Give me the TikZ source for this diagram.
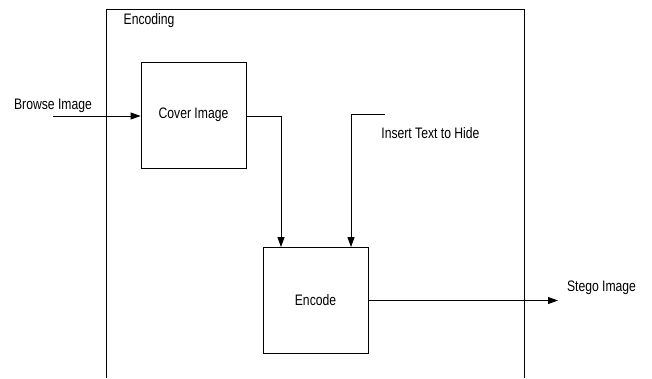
\documentclass[tikz,border=0pt]{standalone}
\usepackage{fontspec}
\setmainfont{Liberation Sans}[FakeStretch=0.8]
\usetikzlibrary{arrows.meta}
\begin{document}
\begin{tikzpicture}[x=1pt,y=-1pt,
  line width=0.8pt,
  every node/.style={font=\fontsize{15.2}{18}\selectfont, inner sep=0pt},
  block/.style={draw, minimum width=105pt, minimum height=106pt},
  flow/.style={-{Triangle[length=10pt,width=7pt]}},
  lbl/.style={anchor=base}]
  \useasboundingbox (0,0) rectangle (652,378);

  % enclosing frame, open at the bottom
  \draw (106,378) -- (106,9) -- (524,9) -- (524,378);
  \node[lbl] (enc) at (149,24.7) {Encoding};

  % process boxes
  \node[block] (cover) at (193.5,115) {Cover Image};
  \node[block] (encode) at (315.5,300.5) {Encode};

  % inputs and outputs
  \coordinate (bin) at (53,116);
  \node[lbl] (browse) at (53,109.3) {Browse Image};
  \draw[flow] (bin) -- (bin -| cover.west);

  \coordinate (c1) at (281,116);
  \draw[flow] (cover.east |- c1) -- (c1) -- (c1 |- encode.north);

  \coordinate (t0) at (385,114);
  \coordinate (t1) at (351,114);
  \node[lbl, anchor=base west] (insert) at (381,138.3) {Insert Text to Hide};
  \draw[flow] (t0) -- (t1) -- (t1 |- encode.north);

  \coordinate (sout) at (558,300.5);
  \node[lbl] (stego) at (601.5,291.7) {Stego Image};
  \draw[flow] (encode.east) -- (sout);
\end{tikzpicture}
\end{document}
